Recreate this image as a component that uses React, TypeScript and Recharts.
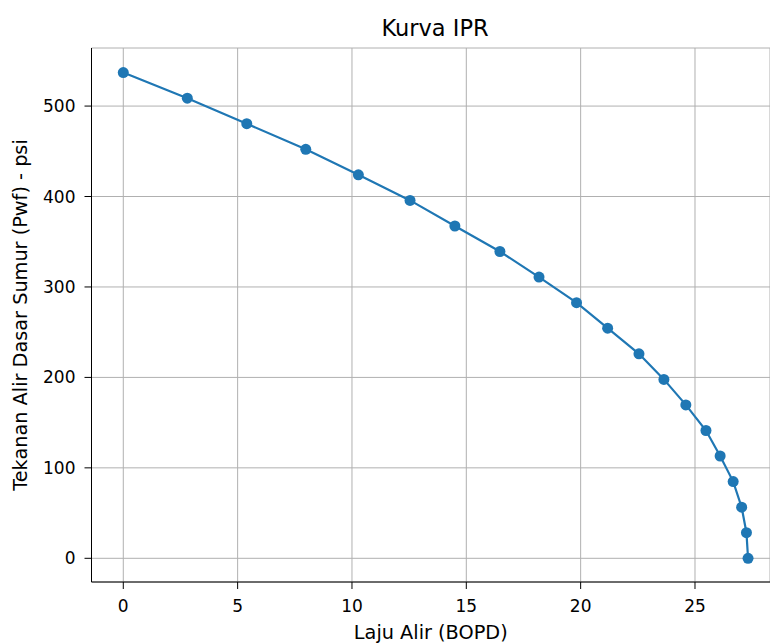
import { LineChart, Line, XAxis, YAxis, CartesianGrid, Label } from "recharts";

// laju alir (BOPD) dan tekanan alir dasar sumur (psi)
const laju = [
  0, 2.8, 5.4, 7.98, 10.28, 12.54, 14.5, 16.47, 18.18, 19.82, 21.18, 22.55, 23.64,
  24.6, 25.48, 26.1, 26.67, 27.04, 27.25, 27.32,
];
const tekanan = [
  537, 508.7, 480.5, 452.2, 424, 395.7, 367.4, 339.2, 310.9, 282.6, 254.4, 226.1,
  197.8, 169.6, 141.3, 113.1, 84.8, 56.5, 28.3, 0,
];
const xTicks = [0, 5, 10, 15, 20, 25];
const yTicks = [0, 100, 200, 300, 400, 500];

const data = laju.map((q, i) => ({ q, pwf: tekanan[i] }));

const font = "'DejaVu Sans', sans-serif";
const tickStyle = { fontSize: 17, fill: "#000", fontFamily: font };
const labelStyle = { fontSize: 19.3, fill: "#000", fontFamily: font };

export default function App() {
  return (
    <div style={{ position: "absolute", left: 0, top: 0, width: 770, height: 643, background: "#fff" }}>
      <div
        style={{
          position: "absolute",
          left: 285,
          width: 300,
          top: 15,
          textAlign: "center",
          fontFamily: font,
          fontSize: 22.5,
          lineHeight: 1.164,
          color: "#000",
          whiteSpace: "nowrap",
        }}
      >
        Kurva IPR
      </div>
      <LineChart
        width={770}
        height={643}
        data={data}
        margin={{ top: 48, right: 0, bottom: 0, left: 0 }}
      >
        <CartesianGrid stroke="#b0b0b0" strokeWidth={1} />
        <XAxis
          dataKey="q"
          type="number"
          domain={[-1.39, 28.28]}
          ticks={xTicks}
          allowDataOverflow
          height={61}
          tick={tickStyle}
          tickSize={7}
          tickMargin={11}
          axisLine={{ stroke: "#000" }}
          tickLine={{ stroke: "#000" }}
        >
          <Label value="Laju Alir (BOPD)" position="insideBottom" offset={4} style={labelStyle} />
        </XAxis>
        <XAxis
          xAxisId="top"
          orientation="top"
          type="number"
          domain={[-1.39, 28.28]}
          height={0}
          tick={false}
          tickLine={false}
          axisLine={{ stroke: "#000" }}
        />
        <YAxis
          type="number"
          domain={[-26.2, 564.2]}
          ticks={yTicks}
          allowDataOverflow
          width={91.5}
          tick={tickStyle}
          tickSize={7}
          tickMargin={9}
          axisLine={{ stroke: "#000" }}
          tickLine={{ stroke: "#000" }}
        >
          <Label
            value="Tekanan Alir Dasar Sumur (Pwf) - psi"
            angle={-90}
            position="insideLeft"
            offset={20}
            style={{ ...labelStyle, textAnchor: "middle" }}
          />
        </YAxis>
        <Line
          type="linear"
          dataKey="pwf"
          stroke="#1f77b4"
          strokeWidth={2.2}
          dot={{ r: 5.5, fill: "#1f77b4", stroke: "none" }}
          activeDot={false}
          isAnimationActive={false}
        />
      </LineChart>
    </div>
  );
}
